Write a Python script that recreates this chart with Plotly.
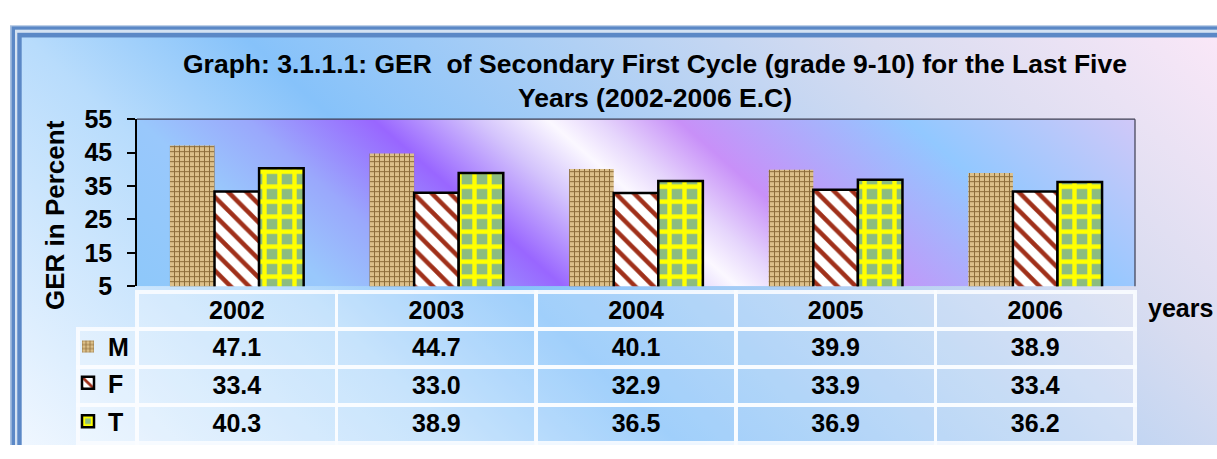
import base64
import plotly.graph_objects as go

# ---- data ----
years = ["2002", "2003", "2004", "2005", "2006"]
male = [47.1, 44.7, 40.1, 39.9, 38.9]
female = [33.4, 33.0, 32.9, 33.9, 33.4]
total = [40.3, 38.9, 36.5, 36.9, 36.2]
series_names = ["M", "F", "T"]
y_ticks = [5, 15, 25, 35, 45, 55]

W, H = 1217, 459
FONT = "Liberation Sans, Arial, sans-serif"

# plot-area pixel box
PX0, PX1, PY0, PY1 = 137, 1135, 112, 290


def svg_uri(svg):
    return "data:image/svg+xml;base64," + base64.b64encode(svg.encode()).decode()


def stops(lst, total_len):
    return "".join(
        f'<stop offset="{s / total_len:.4f}" stop-color="{c}"/>' for s, c in lst
    )


# page background with double blue frame
page_stops = [(0, "#f2f8ff"), (460, "#b8dcfc"), (680, "#86c2fa"),
              (1000, "#b0d0f4"), (1300, "#d8dcf0"), (1676, "#fce8f8")]
page_svg = f'''<svg xmlns="http://www.w3.org/2000/svg" width="{W}" height="{H}" viewBox="0 0 {W} {H}" preserveAspectRatio="none">
<defs><linearGradient id="g" gradientUnits="userSpaceOnUse" x1="0" y1="{H}" x2="838" y2="{H - 838}">{stops(page_stops, 1676)}</linearGradient></defs>
<rect width="{W}" height="{H}" fill="#ffffff"/>
<rect x="10" y="12" width="{W}" height="{H}" fill="#a8c0e0"/>
<rect x="11.7" y="13.3" width="{W}" height="{H}" fill="#5b88c6"/>
<rect x="15" y="16.7" width="{W}" height="{H}" fill="#d4e2f2"/>
<rect x="17.3" y="20" width="{W}" height="{H}" fill="#5b88c6"/>
<rect x="21.7" y="25" width="{W}" height="{H}" fill="url(#g)"/>
</svg>'''

# plot-area background gradient
pw, ph = PX1 - PX0, PY1 - PY0
plot_stops = [(0, "#8ec8fa"), (190, "#99c8fc"), (300, "#9aa8fc"), (426, "#9966ff"),
              (530, "#d4c4fc"), (600, "#fbf8ff"), (650, "#e6d6fc"), (730, "#c890f8"),
              (960, "#92c8ff"), (1188, "#d0c8f8")]
plot_svg = f'''<svg xmlns="http://www.w3.org/2000/svg" width="{pw}" height="{ph}" viewBox="0 0 {pw} {ph}" preserveAspectRatio="none">
<defs><linearGradient id="p" gradientUnits="userSpaceOnUse" x1="0" y1="{ph}" x2="553.9" y2="{ph - 592.7:.1f}">{stops(plot_stops, 1188)}</linearGradient></defs>
<rect width="{pw}" height="{ph}" fill="url(#p)"/>
</svg>'''

fig = go.Figure()

bar_styles = [
    dict(color="#c8a870", line=dict(width=0),
         pattern=dict(shape="+", fgcolor="#8a6a38", bgcolor="#dcc08a", size=5,
                      solidity=0.35, fgopacity=1)),
    dict(color="#ffffff", line=dict(width=2.5, color="#000000"),
         pattern=dict(shape="\\", fgcolor="#a0301a", bgcolor="#ffffff", size=13,
                      solidity=0.35, fgopacity=1)),
    dict(color="#8cbc80", line=dict(width=2.5, color="#000000"),
         pattern=dict(shape="+", fgcolor="#ffff00", bgcolor="#8cbc80", size=15,
                      solidity=0.5, fgopacity=1)),
]
legend_ids = ["legend", "legend2", "legend3"]
for name, vals, style, lg in zip(series_names, [male, female, total], bar_styles, legend_ids):
    fig.add_trace(go.Bar(x=years, y=vals, name=name, marker=style, legend=lg,
                         xaxis="x", yaxis="y"))

# data table under the plot
cell_fill = "rgba(255,255,255,0.22)"
clear = "rgba(0,0,0,0)"
line_col = "rgba(250,252,255,0.9)"
fig.add_trace(go.Table(
    domain=dict(x=[78 / W, PX1 / W], y=[0, 1 - 296 / H]),
    columnwidth=[59] + [199.6] * 5,
    header=dict(
        values=[""] + years,
        fill=dict(color=[clear] + [cell_fill] * 5),
        line=dict(color=[clear] + [line_col] * 5, width=3.5),
        font=dict(family=FONT, size=25, color="black", weight="bold"),
        align="center", height=37,
    ),
    cells=dict(
        values=[["", "", ""]] + [[f"{m:.1f}", f"{f:.1f}", f"{t:.1f}"]
                                 for m, f, t in zip(male, female, total)],
        fill=dict(color=cell_fill),
        line=dict(color=line_col, width=3.5),
        font=dict(family=FONT, size=25, color="black", weight="bold"),
        align="center", height=38,
    ),
))

legend_base = dict(x=68 / W, xanchor="left", yanchor="middle", bgcolor=clear,
                   borderwidth=0, font=dict(family=FONT, size=25, color="black", weight="bold"))
row_centers = [354.5, 393, 434]
layout_legends = {lg: dict(legend_base, y=1 - yc / H) for lg, yc in zip(legend_ids, row_centers)}

fig.update_layout(
    width=W, height=H,
    margin=dict(l=0, r=0, t=0, b=0),
    paper_bgcolor="white", plot_bgcolor="rgba(0,0,0,0)",
    barmode="group", bargap=0.33, bargroupgap=0,
    showlegend=True,
    **layout_legends,
    xaxis=dict(domain=[PX0 / W, PX1 / W], type="category", showticklabels=False,
               showgrid=False, zeroline=False, showline=False, ticks=""),
    yaxis=dict(domain=[1 - PY1 / H, 1 - PY0 / H], range=[5, 55], tickvals=y_ticks,
               showgrid=False, zeroline=False, showline=True, linecolor="#000000",
               linewidth=1.5, mirror=False, ticks="outside", ticklen=8, tickwidth=1.5,
               tickcolor="#000000", ticklabelstandoff=10,
               tickfont=dict(family=FONT, size=25, color="black", weight="bold")),
    images=[
        dict(source=svg_uri(page_svg), xref="paper", yref="paper", x=0, y=1,
             sizex=1, sizey=1, xanchor="left", yanchor="top", sizing="stretch", layer="below"),
        dict(source=svg_uri(plot_svg), xref="x domain", yref="y domain", x=0, y=1,
             sizex=1, sizey=1, xanchor="left", yanchor="top", sizing="stretch", layer="below"),
    ],
    shapes=[
        dict(type="line", xref="x domain", yref="y domain", x0=0, x1=1, y0=1, y1=1,
             line=dict(color="#3c3c50", width=1.2)),
        dict(type="line", xref="x domain", yref="y domain", x0=1, x1=1, y0=0, y1=1,
             line=dict(color="#3c3c50", width=1.2)),
    ],
    annotations=[
        dict(text="Graph: 3.1.1.1: GER  of Secondary First Cycle (grade 9-10) for the Last Five<br>Years (2002-2006 E.C)",
             xref="paper", yref="paper", x=655 / W, y=1 - 71 / H, xanchor="center", yanchor="middle",
             showarrow=False, font=dict(family=FONT, size=26.5, color="black", weight="bold")),
        dict(text="GER in Percent", xref="paper", yref="paper", x=55 / W, y=1 - 214 / H,
             textangle=-90, xanchor="center", yanchor="middle", showarrow=False,
             font=dict(family=FONT, size=26, color="black", weight="bold")),
        dict(text="years", xref="paper", yref="paper", x=1146 / W, y=1 - 313 / H,
             xanchor="left", yanchor="middle", showarrow=False,
             font=dict(family=FONT, size=25, color="black", weight="bold")),
    ],
)

fig.write_html("out.html")
